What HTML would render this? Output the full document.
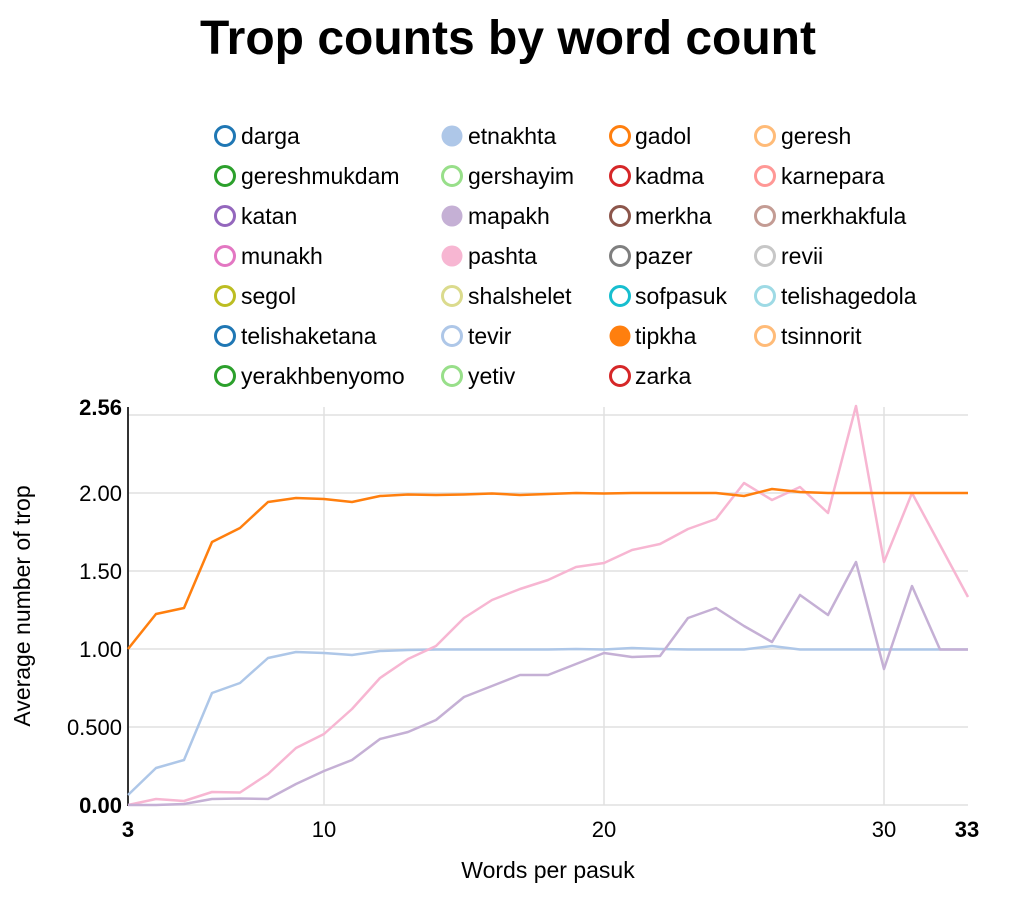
<!DOCTYPE html>
<html><head><meta charset="utf-8"><style>
body{margin:0;background:#fff;}
svg text{font-family:"Liberation Sans",Arial,sans-serif;}
</style></head><body>
<svg width="1016" height="898" xmlns="http://www.w3.org/2000/svg">
<text x="508" y="54" text-anchor="middle" font-size="48" font-weight="bold" fill="#000">Trop counts by word count</text>
<g font-size="23" fill="#000">
<g stroke-width="3" fill="none">
<circle cx="225" cy="136" r="9.5" stroke="#1f77b4"/><circle cx="452" cy="136" r="10.5" fill="#aec7e8" stroke="none"/><circle cx="620" cy="136" r="9.5" stroke="#ff7f0e"/><circle cx="765" cy="136" r="9.5" stroke="#ffbb78"/>
<circle cx="225" cy="176" r="9.5" stroke="#2ca02c"/><circle cx="452" cy="176" r="9.5" stroke="#98df8a"/><circle cx="620" cy="176" r="9.5" stroke="#d62728"/><circle cx="765" cy="176" r="9.5" stroke="#ff9896"/>
<circle cx="225" cy="216" r="9.5" stroke="#9467bd"/><circle cx="452" cy="216" r="10.5" fill="#c5b0d5" stroke="none"/><circle cx="620" cy="216" r="9.5" stroke="#8c564b"/><circle cx="765" cy="216" r="9.5" stroke="#c49c94"/>
<circle cx="225" cy="256" r="9.5" stroke="#e377c2"/><circle cx="452" cy="256" r="10.5" fill="#f7b6d2" stroke="none"/><circle cx="620" cy="256" r="9.5" stroke="#7f7f7f"/><circle cx="765" cy="256" r="9.5" stroke="#c7c7c7"/>
<circle cx="225" cy="296" r="9.5" stroke="#bcbd22"/><circle cx="452" cy="296" r="9.5" stroke="#dbdb8d"/><circle cx="620" cy="296" r="9.5" stroke="#17becf"/><circle cx="765" cy="296" r="9.5" stroke="#9edae5"/>
<circle cx="225" cy="336" r="9.5" stroke="#1f77b4"/><circle cx="452" cy="336" r="9.5" stroke="#aec7e8"/><circle cx="620" cy="336" r="10.5" fill="#ff7f0e" stroke="none"/><circle cx="765" cy="336" r="9.5" stroke="#ffbb78"/>
<circle cx="225" cy="376" r="9.5" stroke="#2ca02c"/><circle cx="452" cy="376" r="9.5" stroke="#98df8a"/><circle cx="620" cy="376" r="9.5" stroke="#d62728"/>
</g>
<text x="241" y="144">darga</text><text x="468" y="144">etnakhta</text><text x="635" y="144">gadol</text><text x="781" y="144">geresh</text>
<text x="241" y="184">gereshmukdam</text><text x="468" y="184">gershayim</text><text x="635" y="184">kadma</text><text x="781" y="184">karnepara</text>
<text x="241" y="224">katan</text><text x="468" y="224">mapakh</text><text x="635" y="224">merkha</text><text x="781" y="224">merkhakfula</text>
<text x="241" y="264">munakh</text><text x="468" y="264">pashta</text><text x="635" y="264">pazer</text><text x="781" y="264">revii</text>
<text x="241" y="304">segol</text><text x="468" y="304">shalshelet</text><text x="635" y="304">sofpasuk</text><text x="781" y="304">telishagedola</text>
<text x="241" y="344">telishaketana</text><text x="468" y="344">tevir</text><text x="635" y="344">tipkha</text><text x="781" y="344">tsinnorit</text>
<text x="241" y="384">yerakhbenyomo</text><text x="468" y="384">yetiv</text><text x="635" y="384">zarka</text>
</g>
<g stroke="#e0e0e0" stroke-width="1.5">
<line x1="128" y1="415" x2="968" y2="415"/><line x1="128" y1="493" x2="968" y2="493"/><line x1="128" y1="571" x2="968" y2="571"/><line x1="128" y1="649" x2="968" y2="649"/><line x1="128" y1="727" x2="968" y2="727"/><line x1="128" y1="805" x2="968" y2="805"/>
<line x1="324" y1="407" x2="324" y2="805"/><line x1="604" y1="407" x2="604" y2="805"/><line x1="884" y1="407" x2="884" y2="805"/>
</g>
<line x1="128" y1="407" x2="128" y2="806" stroke="#333" stroke-width="2"/>
<g fill="none" stroke-width="2.5" stroke-linejoin="round">
<polyline stroke="#aec7e8" points="128,795 156,768 184,760 212,693 240,683 268,658 296,652 324,653 352,655 380,651 408,650 436,649.5 464,649.5 492,649.5 520,649.5 548,649.5 576,649 604,649.5 632,648 660,649 688,649.5 716,649.5 744,649.5 772,646 800,649.5 828,649.5 856,649.5 884,649.5 912,649.5 940,649.5 968,649.5"/>
<polyline stroke="#f7b6d2" points="128,805 156,799 184,801 212,792 240,792.5 268,774 296,748 324,734 352,709 380,678 408,659 436,646 464,618 492,600 520,589 548,580 576,567 604,563 632,550 660,544 688,529 716,519 744,483 772,500 800,487 828,513 856,406 884,562 912,493 940,545 968,597"/>
<polyline stroke="#c5b0d5" points="128,805 156,805 184,804 212,799 240,798.5 268,799 296,784 324,771 352,760 380,739 408,732 436,720 464,697 492,686 520,675 548,675 576,664 604,653 632,657 660,656 688,618 716,608 744,626 772,642 800,595 828,615 856,562 884,669 912,586 940,649.5 968,649.5"/>
<polyline stroke="#ff7f0e" points="128,649 156,614 184,608 212,542 240,528 268,502 296,498 324,499 352,502 380,496 408,494.5 436,495 464,494.5 492,493.5 520,495 548,494 576,493 604,493.5 632,493 660,493 688,493 716,493 744,496 772,489 800,492 828,493 856,493 884,493 912,493 940,493 968,493"/>
</g>
<g font-size="22" fill="#000" text-anchor="end">
<text x="122" y="415" font-weight="bold">2.56</text>
<text x="122" y="501">2.00</text><text x="122" y="579">1.50</text><text x="122" y="657">1.00</text><text x="122" y="735">0.500</text>
<text x="122" y="813" font-weight="bold">0.00</text>
</g>
<g font-size="22" fill="#000" text-anchor="middle">
<text x="128" y="837" font-weight="bold">3</text><text x="324" y="837">10</text><text x="604" y="837">20</text><text x="884" y="837">30</text><text x="967" y="837" font-weight="bold">33</text>
</g>
<g font-size="23" fill="#000" text-anchor="middle">
<text x="548" y="878">Words per pasuk</text>
<text transform="translate(30,606) rotate(-90)">Average number of trop</text>
</g>
</svg>
</body></html>
